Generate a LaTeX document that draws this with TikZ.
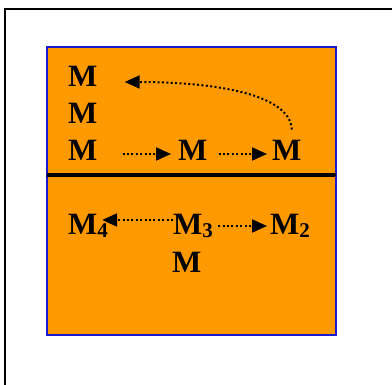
\documentclass[tikz,border=0pt]{standalone}
\usepackage{fontspec}
\setmainfont{Liberation Serif}
\usetikzlibrary{arrows.meta}
\definecolor{boxorange}{RGB}{255,153,0}
\definecolor{boxblue}{RGB}{25,25,205}
\newcommand{\idx}[1]{\raisebox{-3pt}{\fontsize{21}{21}\selectfont #1}}

\begin{document}
\begin{tikzpicture}[x=1pt,y=-1pt,
  lab/.style={font=\fontsize{31}{36}\selectfont\bfseries, inner sep=0pt, anchor=base west},
  dotarrow/.style={line width=2pt, dash pattern=on 2pt off 2.4pt, -{Triangle[length=15pt,width=13pt]}}]
\useasboundingbox (0,0) rectangle (392,385);
\draw [line width=1.6pt] (5,385) -- (5,9) -- (392,9);
\draw [boxblue, line width=1.3pt, fill=boxorange] (47,47) rectangle (336,335);
\draw [line width=3.5pt] (47,175) -- (336,175);

\node [lab] (top1) at (68,87) {M};
\node [lab] (top2) at (68,124) {M};
\node [lab] (top3) at (68,161) {M};
\node [lab] (topmid) at (178,161) {M};
\node [lab] (topright) at (272,161) {M};

\node [lab] (m4) at (68,235) {M\idx{4}};
\node [lab] (m3) at (173,235) {M\idx{3}};
\node [lab] (m2) at (270,235) {M\idx{2}};
\node [lab] (mlow) at (172,273) {M};

\draw [dotarrow, shorten <=25pt, shorten >=7pt] ([yshift=7pt]top3.base east) -- ([yshift=7pt]topmid.base west);
\draw [dotarrow, shorten <=11pt, shorten >=5pt] ([yshift=7pt]topmid.base east) -- ([yshift=7pt]topright.base west);
\draw [dotarrow] ([shift={(5pt,11pt)}]topright.north) .. controls +(-2,-38) and +(80,0) .. ([shift={(27pt,5pt)}]top1.base east);

\draw [dotarrow, shorten >=-6pt] ([yshift=15pt]m3.base west) -- ([yshift=15pt]m4.base east);
\draw [dotarrow, shorten <=5pt, shorten >=3pt] ([yshift=9pt]m3.base east) -- ([yshift=9pt]m2.base west);
\end{tikzpicture}
\end{document}
